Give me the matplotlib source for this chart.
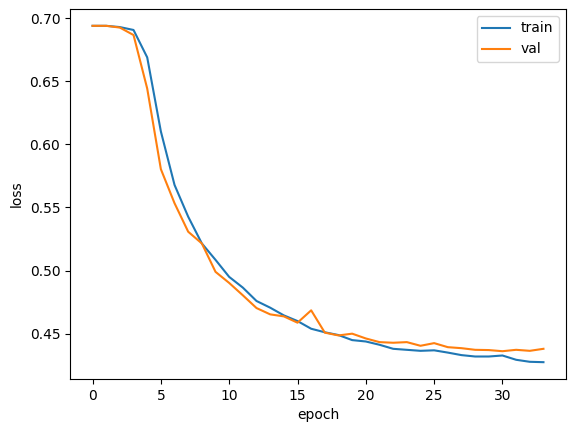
import matplotlib
matplotlib.use("Agg")
import matplotlib.pyplot as plt

epochs = list(range(34))
train_loss = [0.694, 0.694, 0.693, 0.6907, 0.669, 0.6103, 0.5679, 0.5427, 0.5215, 0.5085,
              0.495, 0.4865, 0.4759, 0.4706, 0.4645, 0.460, 0.4539, 0.4511, 0.4489, 0.4449,
              0.4438, 0.4412, 0.438, 0.4372, 0.4364, 0.4368, 0.435, 0.433, 0.4319, 0.4319,
              0.4327, 0.4293, 0.4277, 0.4274]
val_loss = [0.694, 0.694, 0.6926, 0.6867, 0.6443, 0.5804, 0.5534, 0.5308, 0.5215, 0.499,
            0.4902, 0.4804, 0.4703, 0.4653, 0.4637, 0.4587, 0.4685, 0.4508, 0.4486, 0.450,
            0.4462, 0.4433, 0.4428, 0.4433, 0.4404, 0.4425, 0.4393, 0.4385, 0.4372, 0.437,
            0.4361, 0.4372, 0.4364, 0.438]

W, H = 576, 432
fig = plt.figure(figsize=(W / 100, H / 100), dpi=100)
ax = fig.add_axes([70 / W, (H - 379) / H, 496 / W, 370 / H])
ax.plot(epochs, train_loss, label="train")
ax.plot(epochs, val_loss, label="val")
ax.set_xlabel("epoch")
ax.set_ylabel("loss")
ax.legend()
fig.savefig("out.png", dpi=100)
